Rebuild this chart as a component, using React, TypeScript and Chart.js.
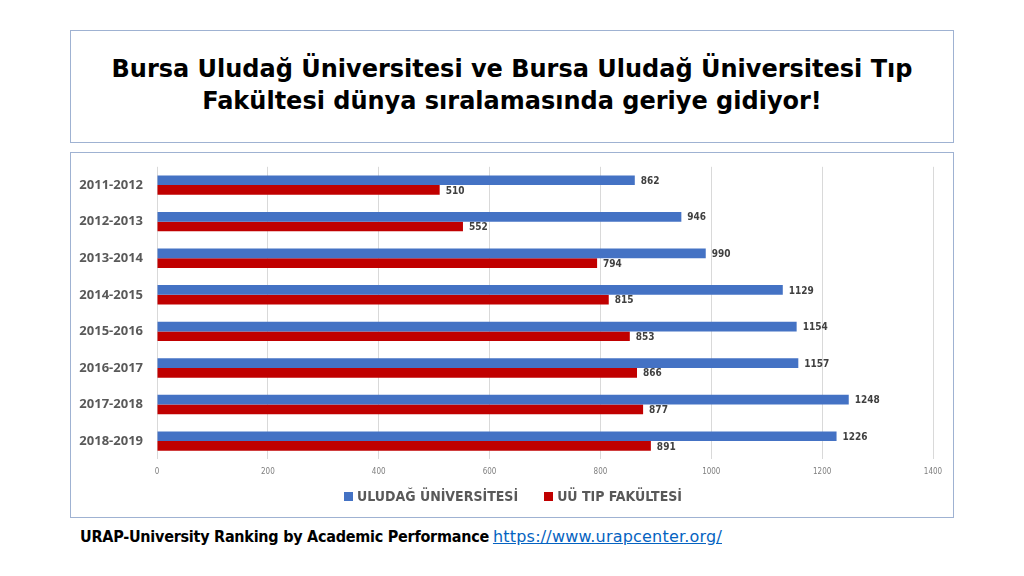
import React, { useEffect, useRef } from "react";
import { Chart, registerables } from "chart.js";

Chart.register(...registerables);

const categories = ["2011-2012", "2012-2013", "2013-2014", "2014-2015", "2015-2016", "2016-2017", "2017-2018", "2018-2019"];
const uludagValues = [862, 946, 990, 1129, 1154, 1157, 1248, 1226];
const tipValues = [510, 552, 794, 815, 853, 866, 877, 891];
const seriesNames = ["ULUDAĞ ÜNİVERSİTESİ", "UÜ TIP FAKÜLTESİ"];
const seriesColors = ["#4472C4", "#C00000"];
const xMax = 1400;
const xStep = 200;

const NARROW = '"DejaVu Sans Condensed", "Liberation Sans Narrow", sans-serif';

const valueLabels = {
  id: "valueLabels",
  afterDatasetsDraw(chart: any) {
    const ctx = chart.ctx;
    ctx.save();
    ctx.font = `bold 10px ${NARROW}`;
    ctx.fillStyle = "#404040";
    ctx.textAlign = "left";
    ctx.textBaseline = "middle";
    chart.data.datasets.forEach((ds: any, i: number) => {
      const meta = chart.getDatasetMeta(i);
      meta.data.forEach((bar: any, j: number) => {
        ctx.fillText(String(ds.data[j]), bar.x + 6, bar.y + 1);
      });
    });
    ctx.restore();
  },
};

export default function App() {
  const ref = useRef<HTMLCanvasElement>(null);
  useEffect(() => {
    if (!ref.current) return;
    const chart = new Chart(ref.current, {
      type: "bar",
      data: {
        labels: categories,
        datasets: [
          { label: seriesNames[0], data: uludagValues, backgroundColor: seriesColors[0], categoryPercentage: 0.53, barPercentage: 1 },
          { label: seriesNames[1], data: tipValues, backgroundColor: seriesColors[1], categoryPercentage: 0.53, barPercentage: 1 },
        ],
      },
      options: {
        indexAxis: "y",
        animation: false,
        responsive: false,
        maintainAspectRatio: false,
        layout: { padding: { top: 3, right: 20, bottom: 32, left: 0 } },
        scales: {
          x: {
            min: 0,
            max: xMax,
            ticks: { stepSize: xStep, color: "#7f7f7f", font: { family: NARROW, size: 8 }, padding: 8, callback: (v: any) => String(v) },
            grid: { color: "#d9d9d9", drawTicks: false },
            border: { display: false },
          },
          y: {
            ticks: { color: "#595959", font: { family: '"Open Sans", sans-serif', size: 13, weight: "bold" }, padding: 6 },
            grid: { display: false },
            border: { display: false },
            afterFit(scale: any) { scale.width = 86; },
          },
        },
        plugins: {
          legend: { display: false },
          tooltip: { enabled: false },
        },
      },
      plugins: [valueLabels],
    });
    return () => chart.destroy();
  }, []);

  return (
    <div style={{ position: "absolute", left: 0, top: 0, width: 1024, height: 576, background: "#fff", overflow: "hidden" }}>
      <div style={{ position: "absolute", left: 70, top: 30, width: 882, height: 111, border: "1px solid #9fb2d2", display: "flex", alignItems: "center", justifyContent: "center", textAlign: "center" }}>
        <div style={{ fontFamily: '"DejaVu Sans", Verdana, sans-serif', fontWeight: "bold", fontSize: 24, lineHeight: "32px", color: "#000", marginTop: -4 }}>
          Bursa Uludağ Üniversitesi ve Bursa Uludağ Üniversitesi Tıp<br />Fakültesi dünya sıralamasında geriye gidiyor!
        </div>
      </div>
      <div style={{ position: "absolute", left: 70, top: 152, width: 882, height: 364, border: "1px solid #9fb2d2" }}>
        <canvas ref={ref} width={882} height={364} style={{ display: "block", width: 882, height: 364 }} />
        <div style={{ position: "absolute", left: 273, top: 335, display: "flex", alignItems: "center", fontFamily: NARROW, fontWeight: "bold", fontSize: 14, color: "#595959", whiteSpace: "nowrap" }}>
          {seriesNames.map((n, i) => (
            <div key={n} style={{ display: "flex", alignItems: "center", marginRight: i === 0 ? 26 : 0 }}>
              <span style={{ display: "inline-block", width: 9, height: 9, background: seriesColors[i], marginRight: 4 }} />
              <span>{n}</span>
            </div>
          ))}
        </div>
      </div>
      <div style={{ position: "absolute", left: 80, top: 527, fontSize: 16, color: "#000", whiteSpace: "nowrap" }}>
        <span style={{ fontFamily: NARROW, fontWeight: "bold", letterSpacing: -0.25 }}>URAP-University Ranking by Academic Performance</span>{" "}
        <span style={{ fontFamily: '"DejaVu Sans", sans-serif', color: "#0563C1", textDecoration: "underline", letterSpacing: 0.2 }}>https://www.urapcenter.org/</span>
      </div>
    </div>
  );
}
